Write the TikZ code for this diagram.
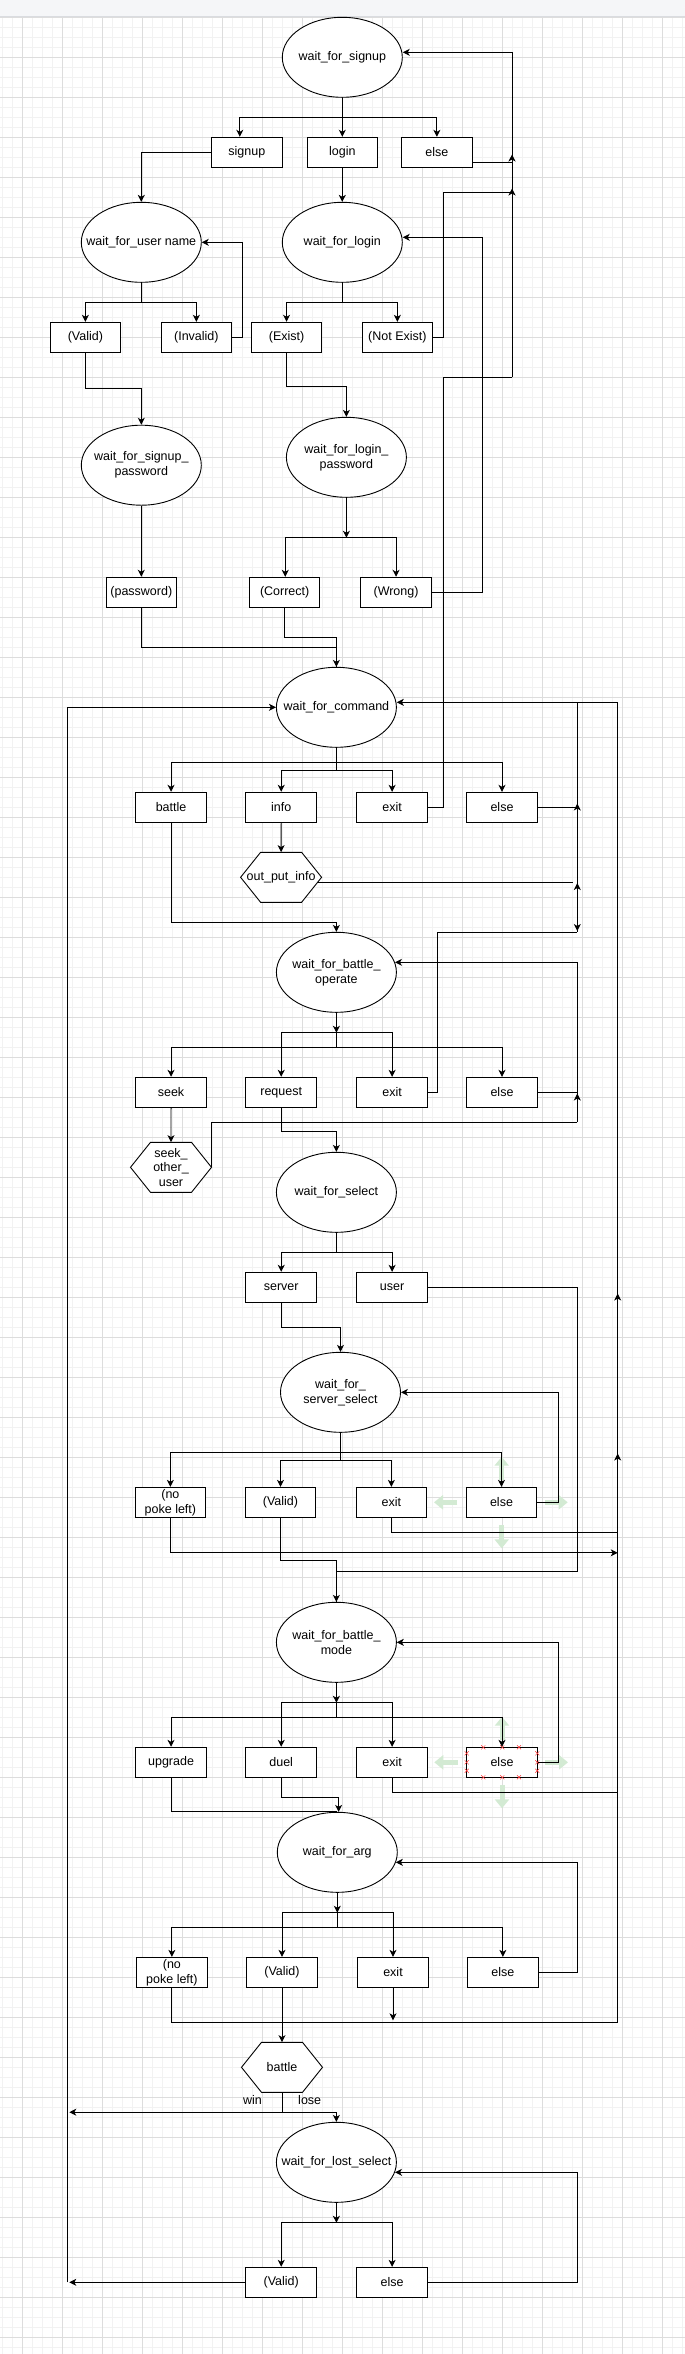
\documentclass[tikz,border=0pt]{standalone}
\usepackage{fontspec}
\setmainfont{Liberation Sans}
\usetikzlibrary{shapes.geometric,arrows.meta,calc}
\definecolor{gmin}{HTML}{F2F2F2}
\definecolor{gmaj}{HTML}{DDDDDD}
\definecolor{hdr}{HTML}{F5F6F8}
\definecolor{hdrl}{HTML}{DADCE0}
\definecolor{uigreen}{HTML}{D3EAD3}
\newcommand\labfont{\fontsize{12.5}{15}\selectfont}
\newcommand\hexnode[4]{%
  \coordinate (#1c) at (#2,#3);
  \filldraw[ln,fill=white] ([xshift=-40.5pt]#1c) -- ([xshift=-20.5pt,yshift=25pt]#1c) -- ([xshift=20.5pt,yshift=25pt]#1c) -- ([xshift=40.5pt]#1c) -- ([xshift=20.5pt,yshift=-25pt]#1c) -- ([xshift=-20.5pt,yshift=-25pt]#1c) -- cycle;
  \node[hxn] (#1) at (#1c) {#4};}
\begin{document}
\begin{tikzpicture}[x=1pt,y=-1pt,
  ln/.style={line width=0.9pt,draw=black},
  arr/.style={ln,-{Stealth[length=7pt,width=7pt,inset=2pt]}},
  st/.style={ellipse,draw=black,line width=0.9pt,fill=white,minimum width=120pt,minimum height=80pt,inner sep=0pt},
  bx/.style={rectangle,draw=black,line width=1pt,fill=white,minimum width=70.5pt,minimum height=30pt,inner sep=0pt,align=center,font=\labfont},
  hxn/.style={rectangle,minimum width=81pt,minimum height=50pt,inner sep=0pt,align=center,font=\labfont},
  every label/.style={align=center,font=\labfont},
  lbl/.style={font=\labfont,inner sep=0pt},
  ui/.style={draw=uigreen,line width=5pt,-{Triangle[length=9pt,width=14pt]}},
  sel/.style={draw=red!80,line width=0.5pt}]
\useasboundingbox (0,0) rectangle (685,2354);
\fill[white] (0,0) rectangle (685,2354);
% grid
\foreach \i in {0,...,68} {\draw[gmin,line width=0.8pt] ({2.3+10*\i},16) -- ({2.3+10*\i},2354);}
\foreach \j in {0,...,233} {\draw[gmin,line width=0.8pt] (0,{17.3+10*\j}) -- (685,{17.3+10*\j});}
\foreach \i in {0,...,16} {\draw[gmaj,line width=0.9pt] ({22.3+40*\i},16) -- ({22.3+40*\i},2354);}
\foreach \j in {0,...,58} {\draw[gmaj,line width=0.9pt] (0,{17.3+40*\j}) -- (685,{17.3+40*\j});}
\fill[hdr] (0,0) rectangle (685,16);
\draw[hdrl,line width=1pt] (0,16) -- (685,16);

% UI hover arrows
\draw[ui] (501.7,1480) -- (501.7,1456.7);
\draw[ui] (457.3,1502.3) -- (434,1502.3);
\draw[ui] (545,1502.3) -- (567.7,1502.3);
\draw[ui] (501.7,1525) -- (501.7,1548.3);
\draw[ui] (502,1740) -- (502,1716.7);
\draw[ui] (457.7,1762.3) -- (434.3,1762.3);
\draw[ui] (545.3,1762.3) -- (568,1762.3);
\draw[ui] (502,1785) -- (502,1808.3);

% states
\node[st,label=center:{wait\_for\_signup}] (sgn) at (342.3,57.3) {};
\node[st,label=center:{wait\_for\_user name}] (wun) at (141.3,242.3) {};
\node[st,label=center:{wait\_for\_login}] (wlg) at (342.3,242.3) {};
\node[st,label=center:{wait\_for\_signup\_\\password}] (wsp) at (141.3,465.2) {};
\node[st,label=center:{wait\_for\_login\_\\password}] (wlp) at (346.4,457.3) {};
\node[st,label=center:{wait\_for\_command}] (wcm) at (336.4,707.3) {};
\node[st,label=center:{wait\_for\_battle\_\\operate}] (wbo) at (336.4,972.3) {};
\node[st,label=center:{wait\_for\_select}] (wsl) at (336.4,1192.3) {};
\node[st,label=center:{wait\_for\_\\server\_select}] (wss) at (340.5,1392.3) {};
\node[st,label=center:{wait\_for\_battle\_\\mode}] (wbm) at (336.4,1642.3) {};
\node[st,label=center:{wait\_for\_arg}] (wag) at (337.3,1852.3) {};
\node[st,label=center:{wait\_for\_lost\_select}] (wls) at (336.4,2162.3) {};

% boxes
\node[bx] (bsu) at (246.8,152.3) {signup};
\node[bx] (blg) at (342.3,152.3) {login};
\node[bx] (bel1) at (436.9,152.3) {else};
\node[bx] (bval1) at (85.4,337.3) {(Valid)};
\node[bx] (binv) at (196.35,337.3) {(Invalid)};
\node[bx] (bex) at (286.55,337.3) {(Exist)};
\node[bx] (bnex) at (397.35,337.3) {(Not Exist)};
\node[bx] (bpw) at (141.3,592.3) {(password)};
\node[bx] (bcor) at (284.65,592.3) {(Correct)};
\node[bx] (bwr) at (396.05,592.3) {(Wrong)};
\node[bx] (bbat) at (171.05,807.3) {battle};
\node[bx] (binfo) at (281.2,807.3) {info};
\node[bx] (bex4) at (392.1,807.3) {exit};
\node[bx] (bels4) at (502,807.3) {else};
\hexnode{oinfo}{281.1}{877.3}{out\_put\_info}
\node[bx] (bseek) at (171.05,1092.3) {seek};
\node[bx] (breq) at (281.2,1092.3) {request};
\node[bx] (bex5) at (392.1,1092.3) {exit};
\node[bx] (bels5) at (502,1092.3) {else};
\hexnode{sother}{171}{1167.3}{seek\_\\[-0.3pt]other\_\\[-0.3pt]user}
\node[bx] (bsrv) at (281.2,1287.3) {server};
\node[bx] (busr) at (392.1,1287.3) {user};
\node[bx] (bnp6) at (170.4,1502.3) {(no\\poke left)};
\node[bx] (bvl6) at (280.5,1502.3) {(Valid)};
\node[bx] (bex6) at (391.4,1502.3) {exit};
\node[bx] (bels6) at (501.5,1502.3) {else};
\node[bx] (bupg) at (171.05,1762.3) {upgrade};
\node[bx] (bdue) at (281.2,1762.3) {duel};
\node[bx] (bex7) at (392.1,1762.3) {exit};
\node[bx] (bels7) at (502,1762.3) {else};
\node[bx] (bnp8) at (171.9,1972.3) {(no\\poke left)};
\node[bx] (bvl8) at (282,1972.3) {(Valid)};
\node[bx] (bex8) at (393,1972.3) {exit};
\node[bx] (bels8) at (502.85,1972.3) {else};
\hexnode{hb}{282}{2067.3}{battle}
\node[bx] (bvl9) at (281.2,2282.3) {(Valid)};
\node[bx] (bel9) at (392.1,2282.3) {else};
\node[lbl] (win) at (252.5,2100.3) {win};
\node[lbl] (lose) at (309.7,2100.3) {lose};

% selection markers
\foreach \p in {(483.3,1747.3),(502.3,1747.3),(519,1747.3),(483.3,1777.3),(502.3,1777.3),(519,1777.3),(466.7,1753.3),(466.7,1762.3),(466.7,1770.7),(537.3,1753.3),(537.3,1762.3),(537.3,1770.7)}
  {\draw[sel] \p +(-2,-2) -- +(2,2) \p +(-2,2) -- +(2,-2);}

% spine coordinates
\coordinate (rA) at (512,52.3);
\coordinate (rB) at (512,377.3);
\coordinate (L1) at (67.3,707.3);
\coordinate (L2) at (67.3,2282.3);
\coordinate (R1) at (617.7,702.3);
\coordinate (R2) at (617.7,2022.3);
\coordinate (M1) at (577.3,702.3);
\coordinate (M2) at (577.3,932.3);
\coordinate (M3) at (577.3,962.3);
\coordinate (M4) at (577.3,1122.3);

% top section
\draw[ln] (sgn.south) -- ++(0,20) coordinate (j1);
\draw[arr] (j1) -| ([xshift=-7pt]bsu.north);
\draw[arr] (j1) -- (blg.north);
\draw[arr] (j1) -| (bel1.north);
\draw[arr] (bsu.west) -| (wun.north);
\draw[arr] (blg.south) -- (wlg.north);
\draw[arr] (rB) -- (rA) -- ([yshift=5pt]sgn.east);
\draw[ln] ([yshift=-10pt]bel1.east) -- ([yshift=-10pt]bel1.east -| rA);
\draw[arr] (512,162) -- (512,154.5);
\draw[ln] (bnex.east) -- ++(10,0) |- (512,192.3);
\draw[arr] (512,197) -- (512,188.5);
\draw[ln] (wun.south) -- ++(0,20) coordinate (j2);
\draw[arr] (j2) -| (bval1.north);
\draw[arr] (j2) -| (binv.north);
\draw[ln] (wlg.south) -- ++(0,20) coordinate (j3);
\draw[arr] (j3) -| (bex.north);
\draw[arr] (j3) -| (bnex.north);
\draw[arr] (binv.east) -- ++(10.5,0) |- (wun.east);
\draw[arr] (bval1.south) -- ++(0,36) -| (wsp.north);
\draw[arr] (bex.south) -- ++(0,33.4) -| (wlp.north);
\draw[arr] (wsp.south) -- (bpw.north);
\draw[arr] (wlp.south) -- ++(0,40) coordinate (j5);
\draw[arr] (j5) -| ([xshift=0.6pt]bcor.north);
\draw[arr] (j5) -| (bwr.north);
\draw[arr] (bwr.east) -- ++(51.1,0) |- ([yshift=5pt]wlg.east);
\draw[arr] (bcor.south) -- ++(0,30) -| (wcm.north);
\draw[ln] (bpw.south) -- ++(0,40) -| (wcm.north);

% command
\draw[arr] (L2) -- (L1) -- (wcm.west);
\draw[arr] (R2) -- (R1) -- ([yshift=5pt]wcm.east);
\draw[ln] (M1) -- (M2);
\draw[ln] (wcm.south) -- ++(0,15) coordinate (jc1) -- ++(0,7.7) coordinate (jc2);
\draw[arr] (jc1) -| (bbat.north);
\draw[arr] (jc1) -| (bels4.north);
\draw[arr] (jc2) -| (binfo.north);
\draw[arr] (jc2) -| (bex4.north);
\draw[ln] (bex4.east) -- ++(15.2,0) |- (rB);
\draw[ln] (bels4.east) -- (bels4.east -| M1);
\draw[arr] (577.3,811) -- (577.3,803.5);
\draw[arr] (binfo.south) -- (oinfo.north);
\draw[ln] ([xshift=-4pt,yshift=-5pt]oinfo.east) -- ([xshift=-4pt,yshift=-5pt]oinfo.east -| M1);
\draw[arr] (577.3,890.5) -- (577.3,883);
\draw[arr] (577.3,923) -- (577.3,931);
\draw[arr] (bbat.south) -- ++(0,100) -| (wbo.north);

% battle operate
\draw[arr] (wbo.south) -- ++(0,20) coordinate (jo1);
\draw[ln] (jo1) -- ++(0,15) coordinate (jo2);
\draw[arr] (jo1) -| (breq.north);
\draw[arr] (jo1) -| (bex5.north);
\draw[arr] (jo2) -| (bseek.north);
\draw[arr] (jo2) -| (bels5.north);
\draw[ln] (bex5.east) -- ++(10,0) |- (M2);
\draw[arr] (M4) -- (M3) -- ([xshift=-1.9pt,yshift=10pt]wbo.east);
\draw[ln] (bels5.east) -- (bels5.east -| M1);
\draw[arr] (577.3,1101) -- (577.3,1093.5);
\draw[arr] (bseek.south) -- (sother.north);
\draw[ln] (sother.east) |- (M4);
\draw[arr] (breq.south) -- ++(0,23.4) -| (wsl.north);

% select
\draw[ln] (wsl.south) -- ++(0,20) coordinate (js);
\draw[arr] (js) -| (bsrv.north);
\draw[arr] (js) -| (busr.north);
\draw[ln] (busr.east) -| (577.3,1571.5) -| (wbm.north);
\draw[arr] (bsrv.south) -- ++(0,25) -| (wss.north);

% server select
\draw[ln] (wss.south) -- ++(0,20) coordinate (jss1) -- ++(0,8) coordinate (jss2);
\draw[arr] (jss1) -| (bnp6.north);
\draw[arr] (jss1) -| (bels6.north);
\draw[arr] (jss2) -| (bvl6.north);
\draw[arr] (jss2) -| (bex6.north);
\draw[arr] (bels6.east) -- ++(20.7,0) |- (wss.east);
\draw[ln] (bex6.south) -- ++(0,15) coordinate (t) -- (t -| R1);
\draw[arr] (bnp6.south) -- ++(0,35) coordinate (t) -- (t -| R1);
\draw[arr] (bvl6.south) -- ++(0,43) -| (wbm.north);
\draw[arr] (617.7,1301) -- (617.7,1293.5);
\draw[arr] (617.7,1461) -- (617.7,1453.5);

% battle mode
\draw[arr] (wbm.south) -- ++(0,20) coordinate (jm1);
\draw[ln] (jm1) -- ++(0,15) coordinate (jm2);
\draw[arr] (jm1) -| (bdue.north);
\draw[arr] (jm1) -| (bex7.north);
\draw[arr] (jm2) -| (bupg.north);
\draw[arr] (jm2) -| (bels7.north);
\draw[arr] (bels7.east) -- ++(20.3,0) |- (wbm.east);
\draw[ln] (bex7.south) -- ++(0,15) coordinate (t) -- (t -| R1);
\draw[ln] (bupg.south) |- (wag.north);
\draw[arr] (bdue.south) -- ++(0,20) -| ([xshift=1.3pt]wag.north);

% wait for arg
\draw[arr] (wag.south) -- ++(0,20) coordinate (ja1);
\draw[ln] (ja1) -- ++(0,15) coordinate (ja2);
\draw[arr] (ja1) -| (bvl8.north);
\draw[arr] (ja1) -| (bex8.north);
\draw[arr] (ja2) -| (bnp8.north);
\draw[arr] (ja2) -| (bels8.north);
\draw[arr] (bels8.east) -- ++(39.1,0) |- ([xshift=-1.9pt,yshift=-10pt]wag.east);
\draw[ln] (bnp8.south) |- (R2);
\draw[arr] (bex8.south) -- ([yshift=2pt]bex8.south |- R2);
\draw[arr] (bvl8.south) -- (hb.north);

% battle and lost select
\draw[ln] (hb.south) -- ++(0,19.7) coordinate (jb);
\draw[arr] (jb) -- ([xshift=2pt]jb -| L1);
\draw[arr] (jb) -| (wls.north);
\draw[arr] (wls.south) -- ++(0,20) coordinate (jl);
\draw[arr] (jl) -| (bvl9.north);
\draw[arr] (jl) -| (bel9.north);
\draw[arr] (bvl9.west) -- ([xshift=2pt]L2);
\draw[arr] (bel9.east) -- ++(149.4,0) |- ([xshift=-1.9pt,yshift=-10pt]wls.east);
\end{tikzpicture}
\end{document}
